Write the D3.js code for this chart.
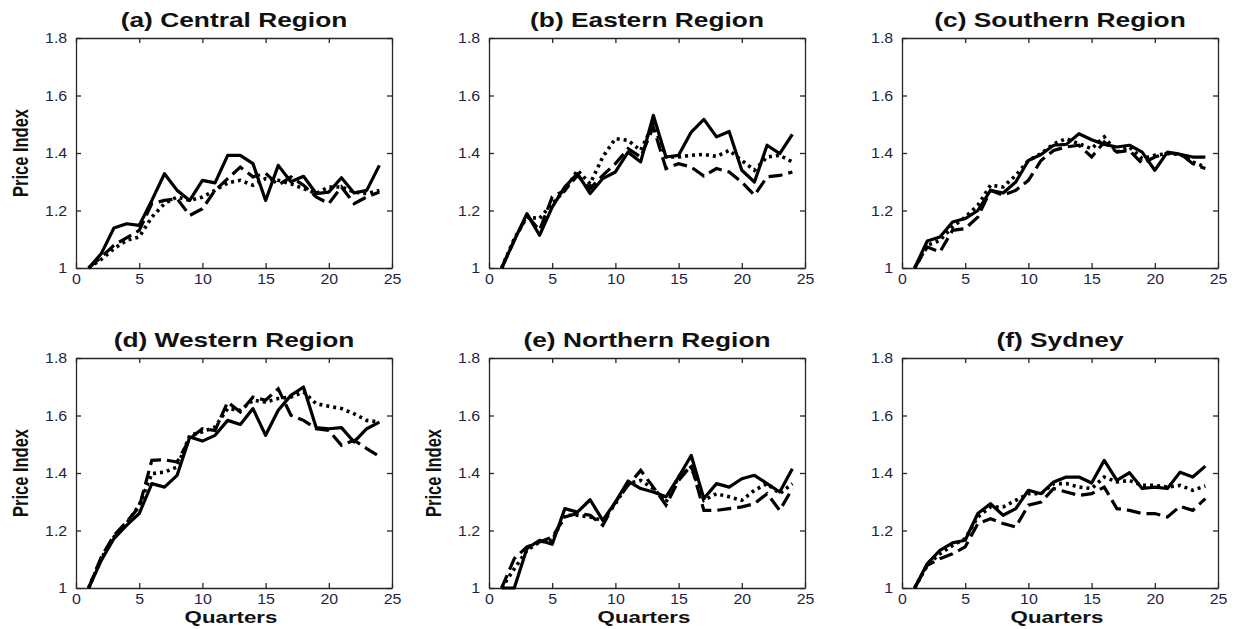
<!DOCTYPE html>
<html>
<head>
<meta charset="utf-8">
<script src="https://cdn.jsdelivr.net/npm/d3@7"></script>
<style>
  body { margin: 0; background: #fff; }
  svg { display: block; }
  text { font-family: Arial, "Liberation Sans", sans-serif; }
</style>
</head>
<body>
<svg id="chart" width="1239" height="629"></svg>
<script>
// quarters on the x axis
const quarters = [1, 2, 3, 4, 5, 6, 7, 8, 9, 10, 11, 12, 13, 14, 15, 16, 17, 18, 19, 20, 21, 22, 23, 24];
const xTicks = [0, 5, 10, 15, 20, 25];
const yTicks = [1, 1.2, 1.4, 1.6, 1.8];

// (a) Central Region
const centralSolid  = [1.0, 1.05, 1.139, 1.154, 1.148, 1.235, 1.328, 1.27, 1.235, 1.305, 1.296, 1.392, 1.392, 1.363, 1.235, 1.357, 1.30, 1.319, 1.259, 1.264, 1.314, 1.261, 1.27, 1.357];
const centralDotted = [1.0, 1.03, 1.067, 1.096, 1.108, 1.177, 1.224, 1.247, 1.235, 1.247, 1.27, 1.296, 1.305, 1.288, 1.311, 1.305, 1.293, 1.276, 1.259, 1.282, 1.282, 1.264, 1.259, 1.27];
const centralDashed = [1.0, 1.038, 1.079, 1.105, 1.131, 1.224, 1.235, 1.241, 1.183, 1.206, 1.27, 1.311, 1.351, 1.317, 1.33, 1.288, 1.317, 1.288, 1.247, 1.224, 1.282, 1.224, 1.247, 1.264];

// (b) Eastern Region
const easternSolid  = [1.0, 1.096, 1.189, 1.114, 1.212, 1.282, 1.328, 1.259, 1.311, 1.334, 1.403, 1.369, 1.531, 1.386, 1.392, 1.473, 1.517, 1.456, 1.475, 1.34, 1.299, 1.427, 1.398, 1.465];
const easternDotted = [1.0, 1.102, 1.177, 1.172, 1.224, 1.27, 1.34, 1.293, 1.386, 1.45, 1.444, 1.409, 1.502, 1.386, 1.386, 1.392, 1.395, 1.388, 1.409, 1.374, 1.34, 1.386, 1.392, 1.369];
const easternDashed = [1.0, 1.096, 1.183, 1.131, 1.247, 1.27, 1.322, 1.276, 1.322, 1.363, 1.415, 1.386, 1.49, 1.346, 1.363, 1.351, 1.32, 1.346, 1.334, 1.299, 1.253, 1.317, 1.322, 1.334];

// (c) Southern Region
const southernSolid  = [1.0, 1.094, 1.108, 1.16, 1.172, 1.2, 1.27, 1.261, 1.299, 1.374, 1.395, 1.427, 1.43, 1.467, 1.446, 1.43, 1.421, 1.427, 1.403, 1.34, 1.403, 1.395, 1.386, 1.386];
const southernDotted = [1.0, 1.079, 1.096, 1.143, 1.177, 1.218, 1.288, 1.282, 1.322, 1.374, 1.398, 1.432, 1.45, 1.432, 1.415, 1.456, 1.403, 1.421, 1.38, 1.392, 1.398, 1.395, 1.369, 1.351];
const southernDashed = [1.0, 1.073, 1.056, 1.131, 1.137, 1.177, 1.27, 1.253, 1.27, 1.305, 1.374, 1.409, 1.421, 1.427, 1.386, 1.438, 1.403, 1.409, 1.363, 1.386, 1.4, 1.398, 1.363, 1.346];

// (d) Western Region
const westernSolid  = [1.0, 1.096, 1.172, 1.218, 1.259, 1.363, 1.351, 1.392, 1.525, 1.511, 1.531, 1.583, 1.569, 1.624, 1.531, 1.618, 1.67, 1.699, 1.558, 1.554, 1.558, 1.508, 1.554, 1.577];
const westernDotted = [1.0, 1.102, 1.177, 1.224, 1.288, 1.398, 1.403, 1.421, 1.531, 1.543, 1.56, 1.624, 1.618, 1.653, 1.647, 1.659, 1.664, 1.682, 1.641, 1.632, 1.624, 1.606, 1.583, 1.577];
const westernDashed = [1.0, 1.108, 1.183, 1.23, 1.282, 1.444, 1.446, 1.438, 1.519, 1.554, 1.548, 1.647, 1.612, 1.664, 1.653, 1.693, 1.601, 1.583, 1.554, 1.548, 1.496, 1.514, 1.485, 1.458];

// (e) Northern Region
const northernSolid  = [1.0, 1.0, 1.137, 1.166, 1.152, 1.276, 1.264, 1.307, 1.235, 1.299, 1.372, 1.346, 1.334, 1.317, 1.386, 1.461, 1.311, 1.363, 1.351, 1.38, 1.392, 1.363, 1.334, 1.415];
const northernDotted = [1.0, 1.067, 1.131, 1.16, 1.166, 1.253, 1.253, 1.247, 1.235, 1.293, 1.363, 1.374, 1.346, 1.299, 1.386, 1.421, 1.305, 1.328, 1.317, 1.305, 1.34, 1.363, 1.328, 1.363];
const northernDashed = [1.0, 1.102, 1.143, 1.16, 1.177, 1.247, 1.259, 1.253, 1.218, 1.299, 1.357, 1.409, 1.351, 1.288, 1.374, 1.427, 1.27, 1.27, 1.276, 1.282, 1.293, 1.328, 1.27, 1.346];

// (f) Sydney
const sydneySolid  = [1.0, 1.085, 1.131, 1.157, 1.166, 1.259, 1.293, 1.253, 1.276, 1.34, 1.328, 1.369, 1.386, 1.386, 1.365, 1.444, 1.374, 1.401, 1.346, 1.351, 1.346, 1.403, 1.386, 1.424];
const sydneyDotted = [1.0, 1.079, 1.119, 1.148, 1.172, 1.247, 1.282, 1.282, 1.305, 1.328, 1.328, 1.363, 1.363, 1.351, 1.346, 1.386, 1.369, 1.374, 1.357, 1.357, 1.351, 1.357, 1.34, 1.355];
const sydneyDashed = [1.0, 1.079, 1.102, 1.119, 1.143, 1.224, 1.241, 1.224, 1.212, 1.288, 1.299, 1.346, 1.334, 1.322, 1.328, 1.351, 1.276, 1.27, 1.259, 1.259, 1.247, 1.284, 1.27, 1.311];

const panels = [
  { title: "(a) Central Region",  solid: centralSolid,  dotted: centralDotted,  dashed: centralDashed,  col: 0, row: 0, ylab: true,  xlab: false },
  { title: "(b) Eastern Region",  solid: easternSolid,  dotted: easternDotted,  dashed: easternDashed,  col: 1, row: 0, ylab: false, xlab: false },
  { title: "(c) Southern Region", solid: southernSolid, dotted: southernDotted, dashed: southernDashed, col: 2, row: 0, ylab: false, xlab: false },
  { title: "(d) Western Region",  solid: westernSolid,  dotted: westernDotted,  dashed: westernDashed,  col: 0, row: 1, ylab: true,  xlab: true },
  { title: "(e) Northern Region", solid: northernSolid, dotted: northernDotted, dashed: northernDashed, col: 1, row: 1, ylab: true,  xlab: true },
  { title: "(f) Sydney",          solid: sydneySolid,   dotted: sydneyDotted,   dashed: sydneyDashed,   col: 2, row: 1, ylab: false, xlab: true }
];

const colX = [76, 489, 902];
const rowY = [38, 358];
const pw = 316, ph = 230;
const stretch = 1.35;   // the figure's text is horizontally wide
const axisColor = "#262626";
const labelColor = "#1f1f45";

const svg = d3.select("#chart");

const x = d3.scaleLinear().domain([0, 25]).range([0, pw]);
const y = d3.scaleLinear().domain([1, 1.8]).range([ph, 0]);

const line = d3.line()
  .x((d, i) => x(quarters[i]))
  .y(d => y(d));

const yFmt = d => d === 1 ? "1" : d3.format(".1f")(d);

panels.forEach(p => {
  const g = svg.append("g")
    .attr("transform", "translate(" + colX[p.col] + "," + rowY[p.row] + ")");

  // left axis with labels
  const ax = g.append("g")
    .call(d3.axisLeft(y).tickValues(yTicks).tickFormat(yFmt).tickSize(-5).tickSizeOuter(0).tickPadding(8));
  // bottom axis with labels
  const bx = g.append("g")
    .attr("transform", "translate(0," + ph + ")")
    .call(d3.axisBottom(x).tickValues(xTicks).tickSize(-5).tickSizeOuter(0).tickPadding(6));
  // top and right, ticks only
  g.append("g")
    .call(d3.axisTop(x).tickValues(xTicks).tickFormat("").tickSize(-5).tickSizeOuter(0));
  g.append("g")
    .attr("transform", "translate(" + pw + ",0)")
    .call(d3.axisRight(y).tickValues(yTicks).tickFormat("").tickSize(-5).tickSizeOuter(0));

  g.selectAll(".domain, .tick line")
    .attr("stroke", axisColor)
    .attr("stroke-width", 1.3);

  [ax, bx].forEach(a => a.selectAll("text")
    .attr("fill", labelColor)
    .style("font-size", "14.5px")
    .attr("transform", "scale(1.1,1)"));

  // series
  g.append("path").datum(p.dashed)
    .attr("d", line).attr("fill", "none").attr("stroke", "#000")
    .attr("stroke-width", 3.2).attr("stroke-dasharray", "14,6");
  g.append("path").datum(p.dotted)
    .attr("d", line).attr("fill", "none").attr("stroke", "#000")
    .attr("stroke-width", 3.6).attr("stroke-dasharray", "3,4");
  g.append("path").datum(p.solid)
    .attr("d", line).attr("fill", "none").attr("stroke", "#000")
    .attr("stroke-width", 3.2).attr("stroke-linejoin", "round");

  // title
  g.append("text")
    .attr("transform", "translate(" + (pw / 2) + ",-11.5) scale(" + stretch + ",1)")
    .attr("text-anchor", "middle")
    .style("font-size", "19.5px")
    .style("font-weight", "bold")
    .attr("fill", "#111")
    .text(p.title);

  if (p.ylab) {
    g.append("text")
      .attr("transform", "translate(-48," + (ph / 2) + ") scale(" + stretch + ",1) rotate(-90)")
      .attr("text-anchor", "middle")
      .style("font-size", "16.5px")
      .style("font-weight", "bold")
      .attr("fill", "#111")
      .text("Price Index");
  }
  if (p.xlab) {
    g.append("text")
      .attr("transform", "translate(" + (pw / 2 - 3) + "," + (ph + 35) + ") scale(" + stretch + ",1)")
      .attr("text-anchor", "middle")
      .style("font-size", "16.5px")
      .style("font-weight", "bold")
      .attr("fill", "#111")
      .text("Quarters");
  }
});
</script>
</body>
</html>
